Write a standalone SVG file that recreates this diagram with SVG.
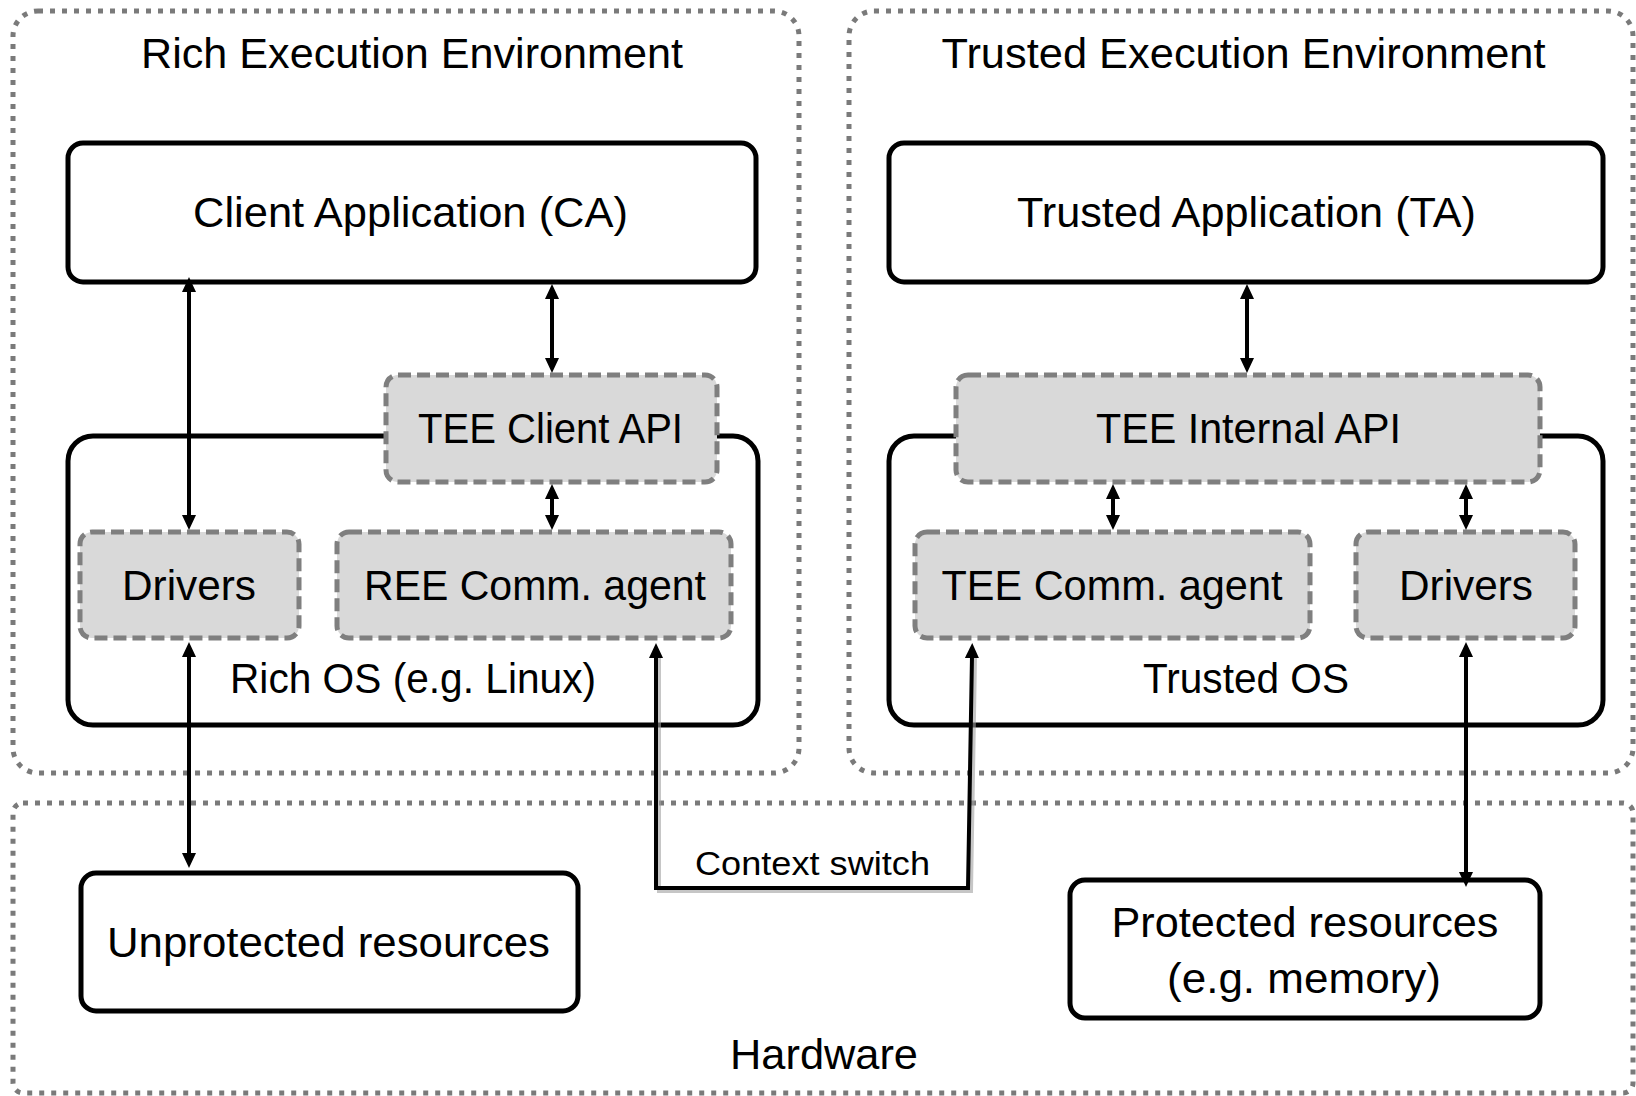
<svg xmlns="http://www.w3.org/2000/svg" width="1636" height="1096" viewBox="0 0 1636 1096">
  <defs>
    <style>
      .env { fill: none; stroke: #7a7a7a; stroke-width: 5; stroke-dasharray: 5 7; }
      .box { fill: #ffffff; stroke: #000000; stroke-width: 5; }
      .os { fill: none; stroke: #000000; stroke-width: 5; }
      .api { fill: #d9d9d9; stroke: #7f7f7f; stroke-width: 5; stroke-dasharray: 13 6; }
      .lbl { font-family: "Liberation Sans", Arial, sans-serif; font-size: 42px; fill: #000000; text-anchor: middle; }
      .small { font-size: 33px; }
      .link { fill: none; stroke: #000000; stroke-width: 4; marker-start: url(#head); marker-end: url(#head); }
      .shadow { fill: none; stroke: #a0a0a0; stroke-width: 4; opacity: 0.6; }
    </style>
    <marker id="head" viewBox="0 0 15 14" markerWidth="15" markerHeight="14" refX="2" refY="7" orient="auto-start-reverse" markerUnits="userSpaceOnUse">
      <path d="M0,0 L15,7 L0,14 z" fill="#000000"/>
    </marker>
  </defs>

  <rect width="1636" height="1096" fill="#ffffff"/>

  <!-- environment containers -->
  <g id="ree">
    <rect class="env" x="13" y="11" width="786" height="762" rx="25"/>
    <text class="lbl" x="412" y="68" textLength="542" lengthAdjust="spacingAndGlyphs">Rich Execution Environment</text>
  </g>
  <g id="tee">
    <rect class="env" x="849" y="11" width="784" height="762" rx="25"/>
    <text class="lbl" x="1243.5" y="68" textLength="604" lengthAdjust="spacingAndGlyphs">Trusted Execution Environment</text>
  </g>
  <g id="hardware">
    <rect class="env" x="13" y="803" width="1620" height="290" rx="10"/>
    <text class="lbl" x="824" y="1069" textLength="188" lengthAdjust="spacingAndGlyphs">Hardware</text>
  </g>

  <!-- operating systems -->
  <g id="rich-os">
    <rect class="os" x="68" y="436" width="690" height="289" rx="25"/>
    <text class="lbl" x="413" y="693" textLength="366" lengthAdjust="spacingAndGlyphs">Rich OS (e.g. Linux)</text>
  </g>
  <g id="trusted-os">
    <rect class="os" x="889" y="436" width="714" height="289" rx="25"/>
    <text class="lbl" x="1246" y="693" textLength="206" lengthAdjust="spacingAndGlyphs">Trusted OS</text>
  </g>

  <!-- applications -->
  <g id="client-app">
    <rect class="box" x="68" y="143" width="688" height="139" rx="15"/>
    <text class="lbl" x="410.5" y="227" textLength="435" lengthAdjust="spacingAndGlyphs">Client Application (CA)</text>
  </g>
  <g id="trusted-app">
    <rect class="box" x="889" y="143" width="714" height="139" rx="15"/>
    <text class="lbl" x="1246.5" y="227" textLength="459" lengthAdjust="spacingAndGlyphs">Trusted Application (TA)</text>
  </g>

  <!-- APIs -->
  <g id="tee-client-api">
    <rect class="api" x="386" y="375" width="331" height="107" rx="12"/>
    <text class="lbl" x="550.5" y="443" textLength="265" lengthAdjust="spacingAndGlyphs">TEE Client API</text>
  </g>
  <g id="tee-internal-api">
    <rect class="api" x="956" y="375" width="584" height="107" rx="12"/>
    <text class="lbl" x="1248.5" y="443" textLength="305" lengthAdjust="spacingAndGlyphs">TEE Internal API</text>
  </g>

  <!-- OS components -->
  <g id="ree-drivers">
    <rect class="api" x="80" y="532" width="219" height="106" rx="12"/>
    <text class="lbl" x="189" y="600" textLength="134" lengthAdjust="spacingAndGlyphs">Drivers</text>
  </g>
  <g id="ree-comm-agent">
    <rect class="api" x="337" y="532" width="394" height="106" rx="12"/>
    <text class="lbl" x="535" y="600" textLength="342" lengthAdjust="spacingAndGlyphs">REE Comm. agent</text>
  </g>
  <g id="tee-comm-agent">
    <rect class="api" x="915" y="532" width="395" height="106" rx="12"/>
    <text class="lbl" x="1112" y="600" textLength="341" lengthAdjust="spacingAndGlyphs">TEE Comm. agent</text>
  </g>
  <g id="tee-drivers">
    <rect class="api" x="1356" y="532" width="219" height="106" rx="12"/>
    <text class="lbl" x="1466" y="600" textLength="134" lengthAdjust="spacingAndGlyphs">Drivers</text>
  </g>

  <!-- hardware resources -->
  <g id="unprotected">
    <rect class="box" x="81" y="873" width="497" height="138" rx="15"/>
    <text class="lbl" x="328.5" y="957" textLength="443" lengthAdjust="spacingAndGlyphs">Unprotected resources</text>
  </g>
  <g id="protected">
    <rect class="box" x="1070" y="880" width="470" height="138" rx="15"/>
    <text class="lbl" x="1305" y="937" textLength="387" lengthAdjust="spacingAndGlyphs">Protected resources</text>
    <text class="lbl" x="1304" y="993" textLength="274" lengthAdjust="spacingAndGlyphs">(e.g. memory)</text>
  </g>

  <!-- connectors -->
  <g id="connectors">
    <line class="link" x1="189" y1="290" x2="189" y2="517"/>
    <line class="link" x1="552" y1="297" x2="552" y2="360"/>
    <line class="link" x1="552" y1="497" x2="552" y2="517"/>
    <line class="link" x1="1247" y1="297" x2="1247" y2="360"/>
    <line class="link" x1="1113" y1="497" x2="1113" y2="517"/>
    <line class="link" x1="1466" y1="497" x2="1466" y2="517"/>
    <line class="link" x1="189" y1="655" x2="189" y2="855"/>
    <line class="link" x1="1466" y1="655" x2="1466" y2="874"/>
    <path class="shadow" d="M659,657 L659,891 L971,891 L975,657"/>
    <path class="link" d="M656,656 L656,888 L968,888 L972,656"/>
    <text class="lbl small" x="812.5" y="875" textLength="235" lengthAdjust="spacingAndGlyphs">Context switch</text>
  </g>
</svg>
